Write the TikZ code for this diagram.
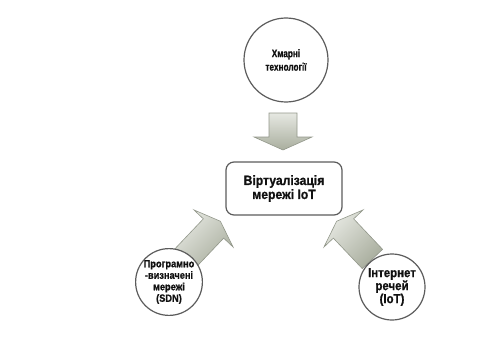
\documentclass[tikz,border=0pt]{standalone}
\usepackage{fontspec}
% heavy condensed label faces
\newfontfamily\narrowlabel{Liberation Sans}[FakeStretch=0.75, FakeBold=0.8]
\newfontfamily\midlabel{Liberation Sans}[FakeStretch=0.88, FakeBold=0.8]
\newfontfamily\widelabel{Liberation Sans}[FakeStretch=0.9, FakeBold=0.8]
\definecolor{outline}{HTML}{5C5C5C}
\definecolor{inktext}{HTML}{111111}
\definecolor{arrowlight}{HTML}{E6E8E2}
\definecolor{arrowdark}{HTML}{A9AE9E}
\definecolor{arrowedge}{HTML}{92978A}

\tikzset{
  ring/.style={circle, draw=outline, line width=1.2pt, fill=white,
    inner sep=0pt, align=center, text=inktext},
  hub/.style={rectangle, rounded corners=8pt, draw=outline, line width=1.2pt,
    fill=white, align=center, text=inktext,
    minimum width=116pt, minimum height=53pt},
  arrowbody/.style={top color=arrowlight, bottom color=arrowdark,
    draw=arrowedge, line width=0.6pt, line join=miter}
}

% block arrow: name, base point of the head, direction, shaft length,
% tip length, head half-width, shading angle (page coordinates)
\newcommand{\blockarr}[7]{%
  \begin{scope}[shift={#2}, rotate=#3]
    \coordinate (#1-t)  at (#5,0);
    \coordinate (#1-h1) at (0,-#6);
    \coordinate (#1-s1) at (0,-14);
    \coordinate (#1-e1) at (-#4,-14);
    \coordinate (#1-e2) at (-#4,14);
    \coordinate (#1-s2) at (0,14);
    \coordinate (#1-h2) at (0,#6);
  \end{scope}
  \shade[arrowbody, shading angle=#7]
    (#1-t) -- (#1-h1) -- (#1-s1) -- (#1-e1) -- (#1-e2) -- (#1-s2)
    -- (#1-h2) -- cycle;}

\begin{document}
\begin{tikzpicture}[x=1pt, y=1pt]
  \useasboundingbox (0,0) rectangle (486,346);

  % block arrows (drawn first, the circles cover their tails)
  \blockarr{fromcloud}{(283,209)}{-90}{24}{13}{29}{0}
  \blockarr{fromsdn}{(213.5,117.5)}{46.5}{42}{10}{27}{45}
  \blockarr{fromiot}{(343.5,117.5)}{133.5}{42}{10}{27}{45}

  % central box
  \node[hub, font=\widelabel\bfseries\fontsize{13.5}{14}\selectfont]
    (virt) at (284,157.5) {Віртуалізація\\мережі IoT};

  % source circles
  \node[ring, minimum size=84pt, font=\narrowlabel\bfseries\fontsize{11}{13.5}\selectfont]
    (cloud) at (286,286) {Хмарні\\технології};
  \node[ring, minimum size=66pt, font=\midlabel\bfseries\fontsize{10.5}{11.5}\selectfont]
    (sdn) at (169,64) {Програмно\\-визначені\\мережі\\(SDN)};
  \node[ring, minimum size=66pt, font=\midlabel\bfseries\fontsize{13}{13}\selectfont]
    (iot) at (392,59) {Інтернет\\речей\\(IoT)};
\end{tikzpicture}
\end{document}
